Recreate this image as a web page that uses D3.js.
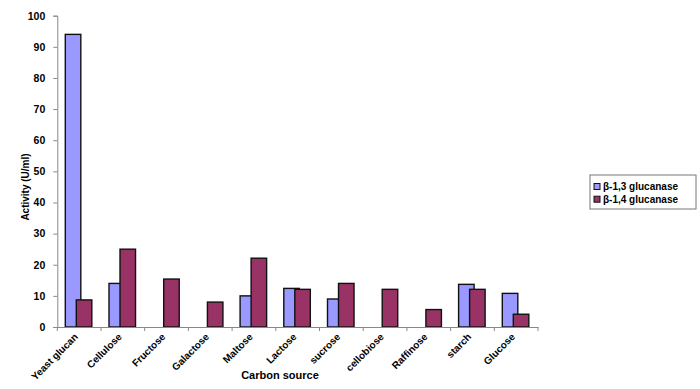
<!DOCTYPE html>
<html>
<head>
<meta charset="utf-8">
<script src="https://cdn.jsdelivr.net/npm/d3@7"></script>
<style>
body { margin: 0; background: #fff; }
text { font-family: "Liberation Sans", Arial, sans-serif; font-weight: bold; fill: #000; }
</style>
</head>
<body>
<div id="chart"></div>
<script>
var categories = ["Yeast glucan", "Cellulose", "Fructose", "Galactose", "Maltose", "Lactose",
	"sucrose", "cellobiose", "Raffinose", "starch", "Glucose"];
var beta13 = [94, 14, 0, 0, 10, 12.4, 9, 0, 0, 13.7, 10.8];
var beta14 = [8.7, 25, 15.4, 8, 22.1, 12.1, 14, 12.1, 5.6, 12.1, 4.1];
var seriesNames = ["β-1,3 glucanase", "β-1,4 glucanase"];
var seriesColors = ["#9999ff", "#993366"];
var yTicks = [0, 10, 20, 30, 40, 50, 60, 70, 80, 90, 100];

var width = 700, height = 389;
var plotLeft = 57.3, plotRight = 538, plotTop = 15.7, plotBottom = 327;

var svg = d3.select("#chart").append("svg")
	.attr("width", width)
	.attr("height", height);

var x = d3.scaleBand().domain(categories).range([plotLeft, plotRight]);
var y = d3.scaleLinear().domain([0, 100]).range([plotBottom, plotTop]);
var bw = x.bandwidth();

// bars: blue first, red on top (overlapping like the original)
var series = [beta13, beta14];
var offsets = [0.183, 0.435];
series.forEach(function(vals, s) {
	svg.append("g").selectAll("rect")
		.data(categories.map(function(c, i) { return {c: c, v: vals[i]}; }).filter(function(d) { return d.v > 0; }))
		.enter().append("rect")
		.attr("x", function(d) { return x(d.c) + offsets[s] * bw; })
		.attr("y", function(d) { return y(d.v); })
		.attr("width", 0.355 * bw)
		.attr("height", function(d) { return y(0) - y(d.v); })
		.style("fill", seriesColors[s])
		.style("stroke", "#111")
		.style("stroke-width", 1.4);
});

// y axis
var yAxis = svg.append("g")
	.attr("transform", "translate(" + plotLeft + ",0)")
	.call(d3.axisLeft(y).tickValues(yTicks).tickSize(4).tickPadding(8));
yAxis.select(".domain").attr("stroke", "#888");
yAxis.selectAll(".tick line").attr("stroke", "#888");
yAxis.selectAll(".tick text").style("font-size", "10.5px").style("font-family", "Liberation Sans, Arial").style("font-weight", "bold");

// x axis
var xAxis = svg.append("g")
	.attr("transform", "translate(0," + plotBottom + ")")
	.call(d3.axisBottom(x).tickSize(0).tickFormat(""));
xAxis.select(".domain").attr("stroke", "#888");
var bounds = categories.map(function(c) { return x(c); }).concat([plotRight]);
svg.append("g").selectAll("line")
	.data(bounds)
	.enter().append("line")
	.attr("x1", function(d) { return d; })
	.attr("x2", function(d) { return d; })
	.attr("y1", plotBottom)
	.attr("y2", plotBottom + 4)
	.attr("stroke", "#888");

svg.append("g").selectAll("text")
	.data(categories)
	.enter().append("text")
	.attr("transform", function(d) { return "translate(" + (x(d) + bw / 2 - 3) + "," + (plotBottom + 8) + ") rotate(-45)"; })
	.attr("text-anchor", "end")
	.attr("dy", "0.35em")
	.style("font-size", "10px")
	.text(function(d) { return d; });

// axis titles
svg.append("text")
	.attr("transform", "translate(29,187) rotate(-90)")
	.attr("text-anchor", "middle")
	.style("font-size", "10px")
	.text("Activity (U/ml)");

svg.append("text")
	.attr("x", 280)
	.attr("y", 379)
	.attr("text-anchor", "middle")
	.style("font-size", "11px")
	.text("Carbon source");

// legend
var legend = svg.append("g");
legend.append("rect")
	.attr("x", 590).attr("y", 175)
	.attr("width", 106).attr("height", 34)
	.style("fill", "#fff")
	.style("stroke", "#777");
seriesNames.forEach(function(name, i) {
	var ly = 186.5 + i * 12.7;
	legend.append("rect")
		.attr("x", 594).attr("y", ly - 3)
		.attr("width", 6).attr("height", 6)
		.style("fill", seriesColors[i])
		.style("stroke", "#111");
	legend.append("text")
		.attr("x", 603).attr("y", ly)
		.attr("dy", "0.35em")
		.style("font-size", "10px")
		.text(name);
});
</script>
</body>
</html>
